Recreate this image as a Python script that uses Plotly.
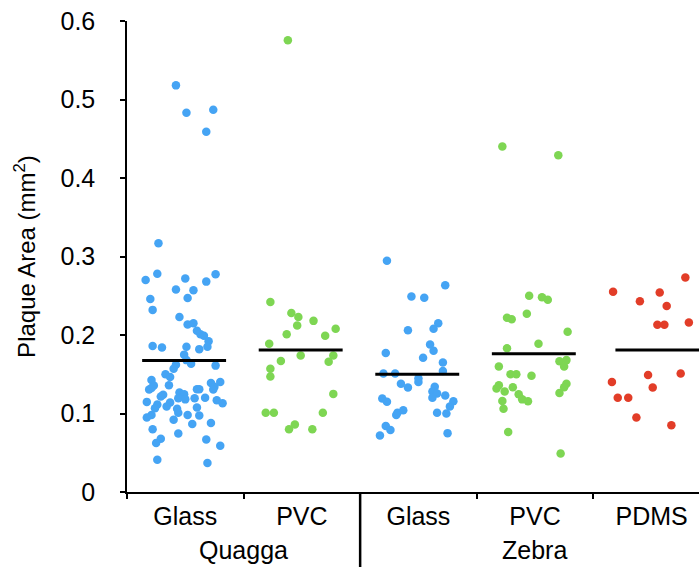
import plotly.graph_objects as go

# ---------------- data ----------------
categories = ["Glass", "PVC", "Glass", "PVC", "PDMS"]
species_labels = ["Quagga", "Zebra"]
species_centers = [0.5, 3]

quagga_glass = [0.518, 0.483, 0.487, 0.459, 0.317, 0.270, 0.278, 0.272, 0.2775, 0.268,
                0.258, 0.257, 0.246, 0.247, 0.232, 0.223, 0.2135, 0.215, 0.2055, 0.201,
                0.199, 0.192, 0.185, 0.182, 0.185, 0.186, 0.184, 0.175, 0.168, 0.1635,
                0.162, 0.157, 0.161, 0.150, 0.1465, 0.1428, 0.1356, 0.1305, 0.1326, 0.136,
                0.139, 0.140, 0.134, 0.1305, 0.131, 0.131, 0.1267, 0.1246, 0.124, 0.1216,
                0.1195, 0.118, 0.1195, 0.120, 0.1148, 0.117, 0.113, 0.114, 0.1115, 0.109,
                0.1068, 0.1076, 0.106, 0.101, 0.098, 0.095, 0.098, 0.0975, 0.092, 0.088,
                0.0865, 0.080, 0.0746, 0.0678, 0.0623, 0.067, 0.059, 0.041, 0.037]
quagga_glass_jitter = [-0.08, 0.01, 0.24, 0.18, -0.23, -0.34, -0.24, 0.00, 0.26, 0.18,
                       -0.08, 0.07, -0.30, 0.02, -0.28, -0.05, 0.02, 0.07, 0.10, 0.13,
                       0.16, 0.20, 0.19, 0.12, 0.01, -0.28, -0.20, -0.01, 0.01, 0.05,
                       -0.08, -0.10, 0.26, -0.17, -0.13, -0.29, -0.27, -0.31, -0.29, -0.14,
                       0.22, 0.30, 0.25, 0.24, 0.10, 0.12, -0.05, -0.01, -0.19, -0.21,
                       -0.06, 0.00, 0.08, 0.17, -0.33, 0.27, 0.32, -0.13, -0.24, -0.16,
                       -0.26, 0.10, -0.07, -0.06, -0.29, -0.33, 0.02, 0.12, -0.10, 0.22,
                       0.06, -0.28, -0.06, -0.21, -0.25, 0.18, 0.30, -0.24, 0.19]

quagga_pvc = [0.5754, 0.242, 0.228, 0.223, 0.212, 0.218, 0.208, 0.201, 0.199, 0.189,
              0.174, 0.174, 0.167, 0.166, 0.157, 0.147, 0.125, 0.101, 0.101, 0.101,
              0.086, 0.080, 0.080]
quagga_pvc_jitter = [-0.12, -0.27, -0.09, -0.03, -0.04, 0.10, 0.29, -0.13, 0.20, -0.28,
                     -0.01, 0.27, -0.18, 0.23, -0.27, -0.27, 0.27, -0.31, -0.24, 0.18,
                     -0.06, -0.11, 0.09]

zebra_glass = [0.2945, 0.2635, 0.249, 0.2475, 0.215, 0.208, 0.206, 0.188, 0.180, 0.177,
               0.171, 0.165, 0.154, 0.151, 0.151, 0.145, 0.140, 0.138, 0.133, 0.134,
               0.128, 0.1254, 0.120, 0.123, 0.119, 0.115, 0.1157, 0.109, 0.104, 0.101,
               0.098, 0.101, 0.100, 0.084, 0.079, 0.072, 0.075]
zebra_glass_jitter = [-0.27, 0.23, -0.06, 0.05, 0.17, 0.13, -0.09, 0.10, 0.13, -0.28,
                      0.04, 0.21, 0.21, -0.30, -0.20, 0.00, 0.00, -0.15, -0.09, 0.14,
                      0.12, 0.16, 0.12, 0.23, -0.31, -0.27, 0.30, 0.27, -0.13, -0.18,
                      -0.19, 0.16, 0.24, -0.28, -0.24, -0.33, 0.25]

zebra_pvc = [0.440, 0.429, 0.250, 0.248, 0.245, 0.227, 0.222, 0.220, 0.204, 0.189,
             0.183, 0.1665, 0.168, 0.160, 0.160, 0.150, 0.150, 0.148, 0.136, 0.132,
             0.1335, 0.128, 0.138, 0.1335, 0.126, 0.1246, 0.118, 0.1157, 0.116, 0.106,
             0.0763, 0.049]
zebra_pvc_jitter = [-0.28, 0.20, -0.05, 0.06, 0.11, -0.07, -0.24, -0.20, 0.28, 0.03,
                    -0.24, 0.21, 0.27, 0.25, -0.31, -0.21, -0.16, -0.03, -0.31, -0.33,
                    -0.19, -0.26, 0.27, 0.25, 0.21, -0.14, -0.11, -0.06, -0.28, -0.27,
                    -0.23, 0.22]

zebra_pdms = [0.2733, 0.255, 0.254, 0.243, 0.237, 0.216, 0.213, 0.213, 0.149, 0.151,
              0.140, 0.133, 0.120, 0.120, 0.095, 0.085]
zebra_pdms_jitter = [0.29, -0.33, 0.07, -0.10, 0.13, 0.32, 0.05, 0.11, -0.03, 0.25,
                     -0.34, 0.01, -0.29, -0.20, -0.13, 0.17]

group_means = [0.1674, 0.181, 0.150, 0.176, 0.181]

y_ticks = [0, 0.1, 0.2, 0.3, 0.4, 0.5, 0.6]
y_tick_labels = ["0", "0.1", "0.2", "0.3", "0.4", "0.5", "0.6"]

# ---------------- styling ----------------
BLUE = "#45A4F4"
GREEN = "#7ED653"
RED = "#E23D28"
FONT = "Liberation Sans, Arial, Helvetica, sans-serif"

groups = [
    (quagga_glass, quagga_glass_jitter, BLUE),
    (quagga_pvc, quagga_pvc_jitter, GREEN),
    (zebra_glass, zebra_glass_jitter, BLUE),
    (zebra_pvc, zebra_pvc_jitter, GREEN),
    (zebra_pdms, zebra_pdms_jitter, RED),
]
mean_half_left = [0.37, 0.37, 0.37, 0.37, 0.31]
mean_half_right = [0.35, 0.35, 0.35, 0.35, 0.45]

fig = go.Figure()

for i, (vals, jit, col) in enumerate(groups):
    fig.add_trace(go.Scatter(
        x=[i + j for j in jit], y=vals, mode="markers",
        marker=dict(color=col, size=8.5, line=dict(width=0)),
        showlegend=False, hoverinfo="y"))

for i, m in enumerate(group_means):
    fig.add_trace(go.Scatter(
        x=[i - mean_half_left[i], i + mean_half_right[i]], y=[m, m], mode="lines",
        line=dict(color="black", width=3),
        showlegend=False, hoverinfo="skip"))

# divider between species
fig.add_shape(type="line", xref="x", yref="paper", x0=1.5, x1=1.5, y0=0, y1=-0.2,
              line=dict(color="black", width=2.5))

for lab, cx in zip(species_labels, species_centers):
    fig.add_annotation(x=cx, xref="x", y=-0.123, yref="paper", text=lab,
                       showarrow=False, yanchor="middle",
                       font=dict(family=FONT, size=25, color="black"))

fig.update_layout(
    width=699, height=567,
    margin=dict(l=127, r=0, t=21, b=75),
    plot_bgcolor="white", paper_bgcolor="white",
    font=dict(family=FONT, color="black"),
)

fig.update_xaxes(
    range=[-0.5, 4.407], tickmode="array", tickvals=list(range(5)), ticktext=categories,
    ticks="", showgrid=False, zeroline=False,
    showline=True, linecolor="black", linewidth=1.5,
    tickfont=dict(family=FONT, size=25, color="black"),
    ticklabelstandoff=1,
    minor=dict(tickmode="array", tickvals=[-0.5, 0.5, 1.5, 2.5, 3.5],
               ticks="outside", ticklen=5, tickwidth=1.5, tickcolor="black", showgrid=False),
)

fig.update_yaxes(
    range=[0, 0.6], tickmode="array", tickvals=y_ticks, ticktext=y_tick_labels,
    ticks="outside", ticklen=5, tickwidth=1.5, tickcolor="black",
    showgrid=False, zeroline=False,
    showline=True, linecolor="black", linewidth=1.5,
    tickfont=dict(family=FONT, size=25, color="black"),
    ticklabelstandoff=20,
    title=dict(text="Plaque Area (mm<sup>2</sup>)", standoff=18,
               font=dict(family=FONT, size=24, color="black")),
)

fig.write_html("out.html", config={"displayModeBar": False},
               post_script="document.body.style.margin='0';")
